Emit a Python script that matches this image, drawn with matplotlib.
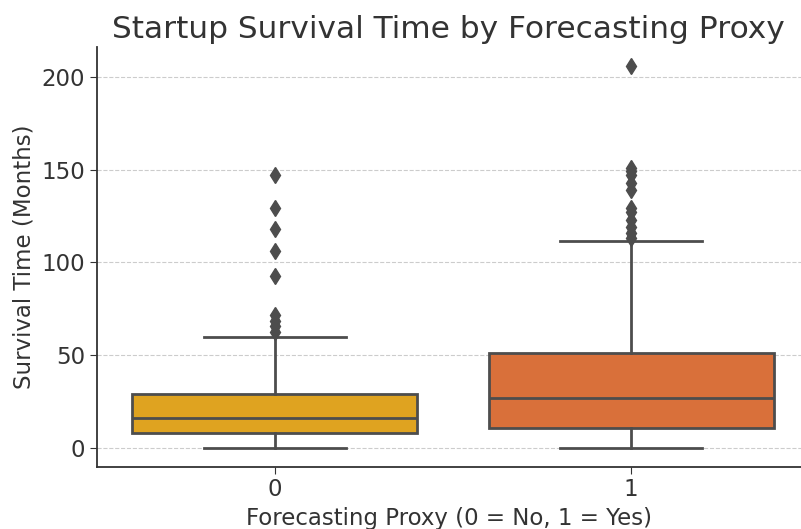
import matplotlib.pyplot as plt

# summary values
groups = ["0", "1"]
whislo = [0, 0]
q1 = [7.9, 10.6]
med = [16.0, 26.8]
q3 = [29.1, 51.0]
whishi = [59.6, 111.6]
outliers_0 = [62.5, 65.5, 68.5, 71.5, 92.5, 106, 118, 129, 147]
outliers_1 = [113, 116, 119, 123, 127, 129, 139, 143, 147, 149, 151, 206]
box_colors = ["#DFA320", "#D9703A"]

stats = []
for i, g in enumerate(groups):
    stats.append({
        "label": g,
        "whislo": whislo[i],
        "q1": q1[i],
        "med": med[i],
        "q3": q3[i],
        "whishi": whishi[i],
        "fliers": [outliers_0, outliers_1][i],
    })

plt.rcParams['font.family'] = ['DejaVu Sans']
line_col = "#4d4d4d"
txt_col = "#333333"

fig = plt.figure(figsize=(8.01, 5.29), dpi=100)
ax = fig.add_axes([0.1207, 0.1178, 0.8793, 0.794])

bp = ax.bxp(stats, positions=[0, 1], widths=0.8, patch_artist=True,
            boxprops=dict(edgecolor=line_col, linewidth=2),
            medianprops=dict(color=line_col, linewidth=2),
            whiskerprops=dict(color=line_col, linewidth=2),
            capprops=dict(color=line_col, linewidth=2),
            capwidths=0.4,
            flierprops=dict(marker="d", markerfacecolor=line_col,
                            markeredgecolor=line_col, markersize=8))
for patch, c in zip(bp["boxes"], box_colors):
    patch.set_facecolor(c)

ax.set_xlim(-0.5, 1.477)
ax.set_ylim(-10.3, 216.3)
ax.set_yticks([0, 50, 100, 150, 200])
ax.yaxis.grid(True, linestyle="--", color="#cccccc", linewidth=0.8)
ax.set_axisbelow(True)
for s in ["top", "right"]:
    ax.spines[s].set_visible(False)
for s in ["left", "bottom"]:
    ax.spines[s].set_color(txt_col)
    ax.spines[s].set_linewidth(1.3)
ax.tick_params(labelsize=16.5, colors=txt_col, length=5)

ax.set_title("Startup Survival Time by Forecasting Proxy", fontsize=22.5, color=txt_col, pad=6)
ax.set_xlabel("Forecasting Proxy (0 = No, 1 = Yes)", fontsize=16.5, color=txt_col)
ax.set_ylabel("Survival Time (Months)", fontsize=16.5, color=txt_col)

fig.savefig("out.png", dpi=100)
